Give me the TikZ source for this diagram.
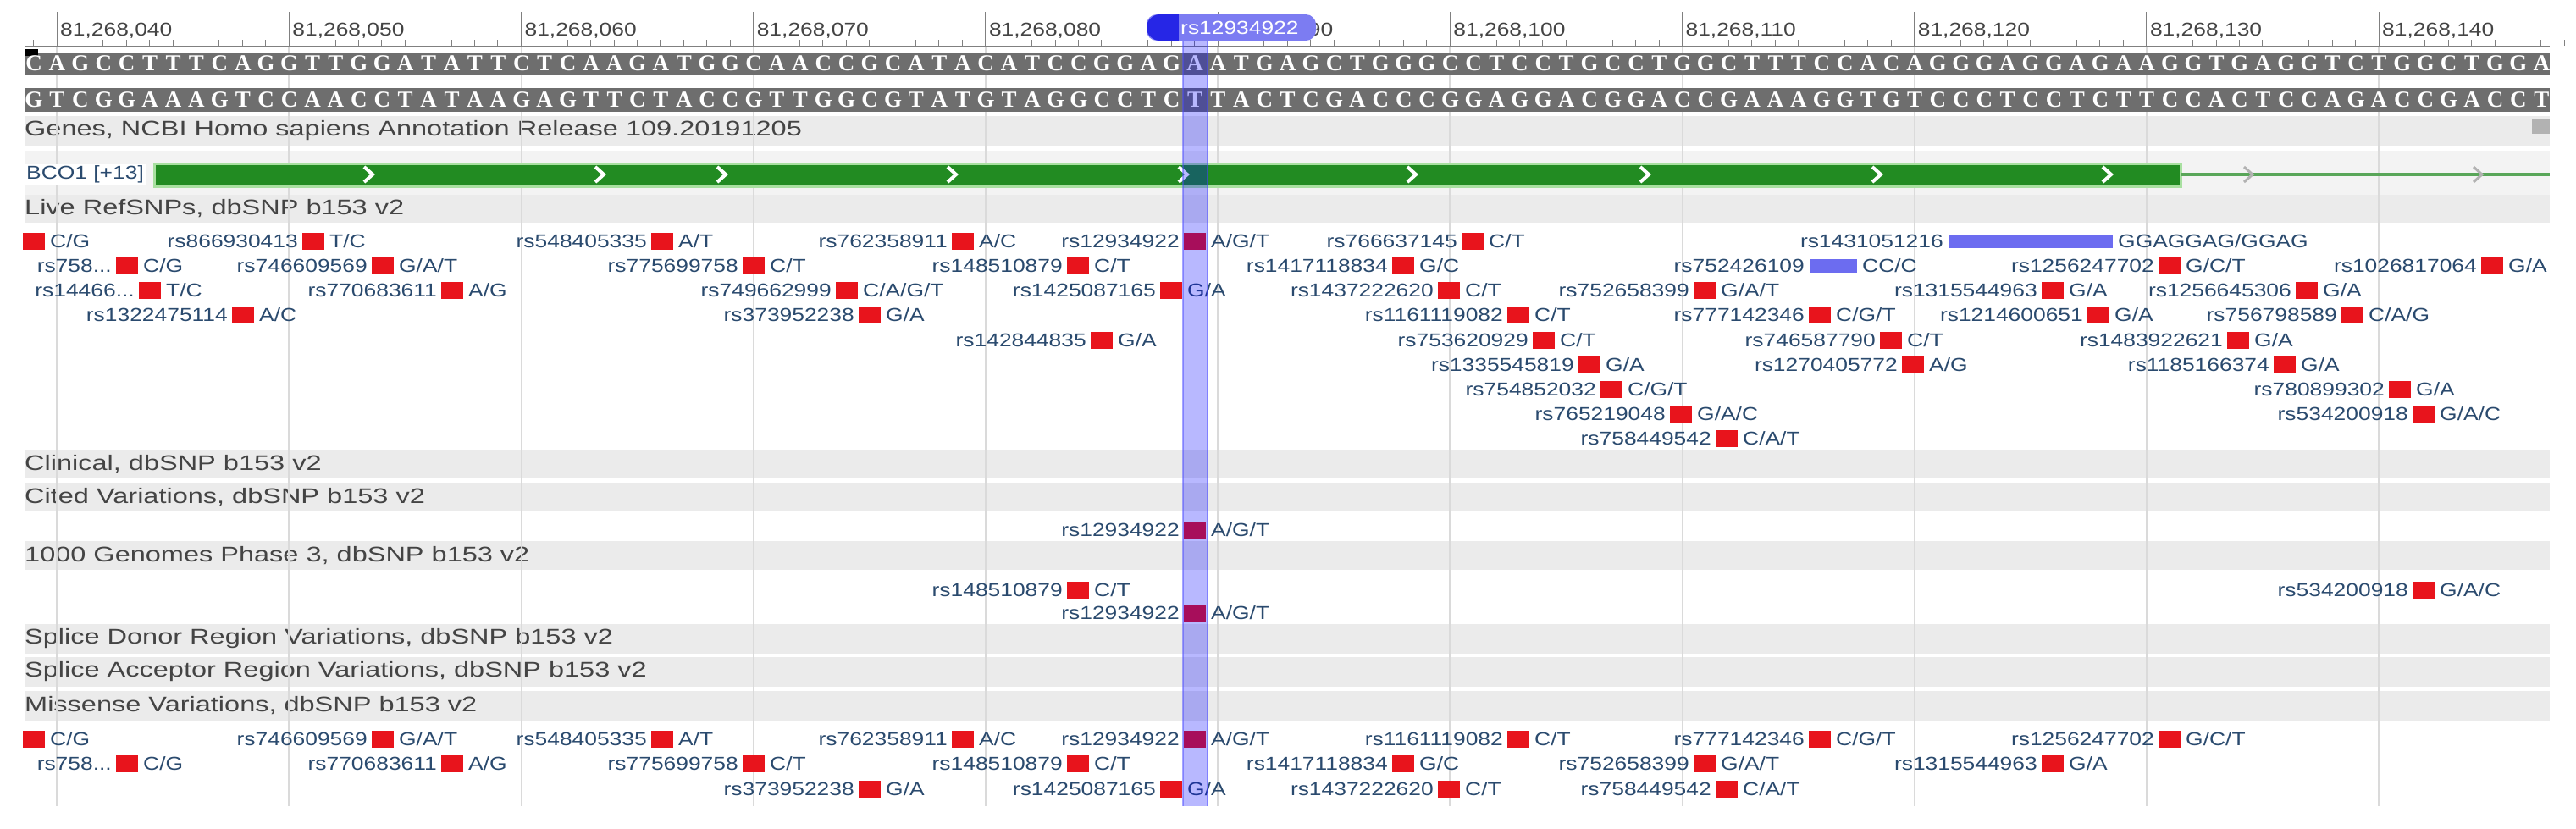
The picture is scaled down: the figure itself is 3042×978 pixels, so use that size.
\documentclass[tikz,border=0pt]{standalone}
\usepackage{fontspec}
\setmainfont{Liberation Sans}[FakeStretch=1.2]
\newfontfamily\hdrfont{Liberation Sans}[FakeStretch=1.3]
\newfontfamily\seqfont{Liberation Serif}[FakeStretch=1.0]
\definecolor{band}{HTML}{EBEBEB}
\definecolor{lband}{HTML}{F3F3F3}
\definecolor{grid}{HTML}{DADADA}
\definecolor{seqbar}{HTML}{6E6E6E}
\definecolor{gene}{HTML}{228B22}
\definecolor{geneedge}{HTML}{A8E0A0}
\definecolor{snpred}{HTML}{E8141C}
\definecolor{indel}{HTML}{6C6CF0}
\definecolor{labtxt}{HTML}{2A4A6E}
\definecolor{hdrtxt}{HTML}{444444}
\definecolor{pill}{HTML}{7C7CF2}
\definecolor{pilldark}{HTML}{2626E6}
\newcount\seqk
\def\seqrow#1#2{\seqk=0 \def\rowy{#1}\seqloop#2\relax}
\def\seqloop#1{\ifx#1\relax\else\seqput{#1}\advance\seqk by 1 \expandafter\seqloop\fi}
\def\seqput#1{\node[seqch] at ({40+27.42*\the\seqk},\rowy) {#1};}
\newcommand\snp[4]{%
  \node[sq] at (#1,#2) {};
  \node[lab,anchor=east] at (#1-18,#2) {#3};
  \node[lab,anchor=west] at (#1+19,#2) {#4};}
\newcommand\snpi[5]{%
  \fill[indel] (#1,#3-8) rectangle (#2,#3+8);
  \node[lab,anchor=east] at (#1-6,#3) {#4};
  \node[lab,anchor=west] at (#2+6,#3) {#5};}
\newcommand\hdr[3]{%
  \fill[band] (29,#1) rectangle (3011,#2);
  \node[hdr] at (29,{(#1+#2)/2}) {#3};}
\tikzset{
  seqch/.style={font=\seqfont\bfseries\fontsize{27}{27}\selectfont, text=white, inner sep=0pt},
  sq/.style={fill=snpred, minimum width=26, minimum height=20, inner sep=0pt},
  lab/.style={font=\fontsize{22}{24}\selectfont, text=labtxt, inner sep=0pt},
  hdr/.style={font=\hdrfont\fontsize{25}{27}\selectfont, text=hdrtxt, anchor=west, inner sep=0pt},
  rul/.style={font=\fontsize{22}{24}\selectfont, text=hdrtxt, anchor=south west, inner sep=0pt},
  chev/.style={draw=white, line width=4pt, line join=miter},
}
\begin{document}
\begin{tikzpicture}[x=1pt,y=-1pt]
\useasboundingbox (0,0) rectangle (3042,978);
\fill[white] (0,0) rectangle (3042,978);
% header bands
\hdr{137}{172}{Genes, NCBI Homo sapiens Annotation Release 109.20191205}
\fill[lband] (29,178) rectangle (3011,230);
\hdr{230}{263}{Live RefSNPs, dbSNP b153 v2}
\hdr{531}{565}{Clinical, dbSNP b153 v2}
\hdr{570}{604}{Cited Variations, dbSNP b153 v2}
\hdr{639}{673}{1000 Genomes Phase 3, dbSNP b153 v2}
\hdr{737}{772}{Splice Donor Region Variations, dbSNP b153 v2}
\hdr{776}{811}{Splice Acceptor Region Variations, dbSNP b153 v2}
\hdr{816}{851}{Missense Variations, dbSNP b153 v2}
% grid lines
\foreach \i in {0,...,10} \draw[grid, line width=1.5pt] ({67+274.2*\i},55) -- ({67+274.2*\i},952);
% ruler
\draw[gray, line width=1pt] (29,54) -- (3011,54);
\foreach \i in {-1,...,108} \draw[gray, line width=1pt] ({67+27.42*\i},54) -- ({67+27.42*\i},47);
\foreach \i/\t in {0/040,1/050,2/060,3/070,4/080,5/090,6/100,7/110,8/120,9/130,10/140} {
  \draw[gray, line width=1pt] ({67+274.2*\i},54) -- ({67+274.2*\i},14);
  \node[rul] at ({67+274.2*\i+4},46) {81,268,\t};
}
% sequence
\fill[seqbar] (29,62) rectangle (3011,88);
\fill[seqbar] (29,104) rectangle (3011,132);
\fill[black] (29,58) -- (45,58) -- (45,66) -- (29,66) -- cycle;
\seqrow{75}{CAGCCTTTCAGGTTGGATATTCTCAAGATGGCAACCGCATACATCCGGAGAATGAGCTGGGCCTCCTGCCTGGCTTTCCACAGGGAGGAGAAGGTGAGGTCTGGCTGGA}
\seqrow{118}{GTCGGAAAGTCCAACCTATAAGAGTTCTACCGTTGGCGTATGTAGGCCTCTTACTCGACCCGGAGGACGGACCGAAAGGTGTCCCTCCTCTTCCACTCCAGACCGACCT}
\fill[gray!60] (2990,140) rectangle (3011,158);
% gene
\draw[geneedge, line width=3pt, fill=gene] (182,193) rectangle (2575,220);
\draw[gray!70!green, line width=4pt] (2575,206) -- (3011,206);
\foreach \x in {435,708,852,1124,1397,1667,1942,2216,2488}
  \draw[chev] (\x-5,197) -- (\x+5,206) -- (\x-5,215);
\foreach \x in {2655,2926}
  \draw[gray!60, line width=3pt] (\x-5,197) -- (\x+5,206) -- (\x-5,215);
\node[lab, anchor=west, fill=white, inner sep=2pt, text=labtxt] (gname) at (29,206) {BCO1 [+13]};
% Live RefSNPs
\node[sq] at (40,285) {}; \node[lab,anchor=west] at (59,285) {C/G};
\snp{370}{285}{rs866930413}{T/C}
\snp{782}{285}{rs548405335}{A/T}
\snp{1137}{285}{rs762358911}{A/C}
\snp{1411}{285}{rs12934922}{A/G/T}
\snp{1739}{285}{rs766637145}{C/T}
\snpi{2301}{2495}{285}{rs1431051216}{GGAGGAG/GGAG}
\snp{150}{314}{rs758...}{C/G}
\snp{452}{314}{rs746609569}{G/A/T}
\snp{890}{314}{rs775699758}{C/T}
\snp{1273}{314}{rs148510879}{C/T}
\snp{1657}{314}{rs1417118834}{G/C}
\snpi{2137}{2193}{314}{rs752426109}{CC/C}
\snp{2562}{314}{rs1256247702}{G/C/T}
\snp{2943}{314}{rs1026817064}{G/A}
\snp{177}{343}{rs14466...}{T/C}
\snp{534}{343}{rs770683611}{A/G}
\snp{1000}{343}{rs749662999}{C/A/G/T}
\snp{1383}{343}{rs1425087165}{G/A}
\snp{1711}{343}{rs1437222620}{C/T}
\snp{2013}{343}{rs752658399}{G/A/T}
\snp{2424}{343}{rs1315544963}{G/A}
\snp{2724}{343}{rs1256645306}{G/A}
\snp{287}{372}{rs1322475114}{A/C}
\snp{1027}{372}{rs373952238}{G/A}
\snp{1793}{372}{rs1161119082}{C/T}
\snp{2149}{372}{rs777142346}{C/G/T}
\snp{2478}{372}{rs1214600651}{G/A}
\snp{2778}{372}{rs756798589}{C/A/G}
\snp{1301}{402}{rs142844835}{G/A}
\snp{1823}{402}{rs753620929}{C/T}
\snp{2233}{402}{rs746587790}{C/T}
\snp{2643}{402}{rs1483922621}{G/A}
\snp{1877}{431}{rs1335545819}{G/A}
\snp{2259}{431}{rs1270405772}{A/G}
\snp{2698}{431}{rs1185166374}{G/A}
\snp{1903}{460}{rs754852032}{C/G/T}
\snp{2834}{460}{rs780899302}{G/A}
\snp{1985}{489}{rs765219048}{G/A/C}
\snp{2862}{489}{rs534200918}{G/A/C}
\snp{2039}{518}{rs758449542}{C/A/T}
% Cited
\snp{1411}{626}{rs12934922}{A/G/T}
% 1000 Genomes
\snp{1273}{697}{rs148510879}{C/T}
\snp{2862}{697}{rs534200918}{G/A/C}
\snp{1411}{724}{rs12934922}{A/G/T}
% Missense
\node[sq] at (40,873) {}; \node[lab,anchor=west] at (59,873) {C/G};
\snp{452}{873}{rs746609569}{G/A/T}
\snp{782}{873}{rs548405335}{A/T}
\snp{1137}{873}{rs762358911}{A/C}
\snp{1411}{873}{rs12934922}{A/G/T}
\snp{1793}{873}{rs1161119082}{C/T}
\snp{2149}{873}{rs777142346}{C/G/T}
\snp{2562}{873}{rs1256247702}{G/C/T}
\snp{150}{902}{rs758...}{C/G}
\snp{534}{902}{rs770683611}{A/G}
\snp{890}{902}{rs775699758}{C/T}
\snp{1273}{902}{rs148510879}{C/T}
\snp{1657}{902}{rs1417118834}{G/C}
\snp{2013}{902}{rs752658399}{G/A/T}
\snp{2424}{902}{rs1315544963}{G/A}
\snp{1027}{932}{rs373952238}{G/A}
\snp{1383}{932}{rs1425087165}{G/A}
\snp{1711}{932}{rs1437222620}{C/T}
\snp{2039}{932}{rs758449542}{C/A/T}
% highlight column
\fill[blue, opacity=0.28] (1397,17) rectangle (1426,952);
\draw[blue!70, opacity=0.5, line width=1.5pt] (1397,17) -- (1397,952) (1426,17) -- (1426,952);
\fill[pill, rounded corners=12pt] (1354,17) rectangle (1554,48);
\fill[pilldark] (1370,32.5) ellipse (16 and 15.5);
\fill[pilldark] (1370,17) rectangle (1392,48);
\node[font=\fontsize{22}{24}\selectfont, text=white, inner sep=0pt, anchor=west] (pilltxt) at (1394,33) {rs12934922};
\end{tikzpicture}
\end{document}
